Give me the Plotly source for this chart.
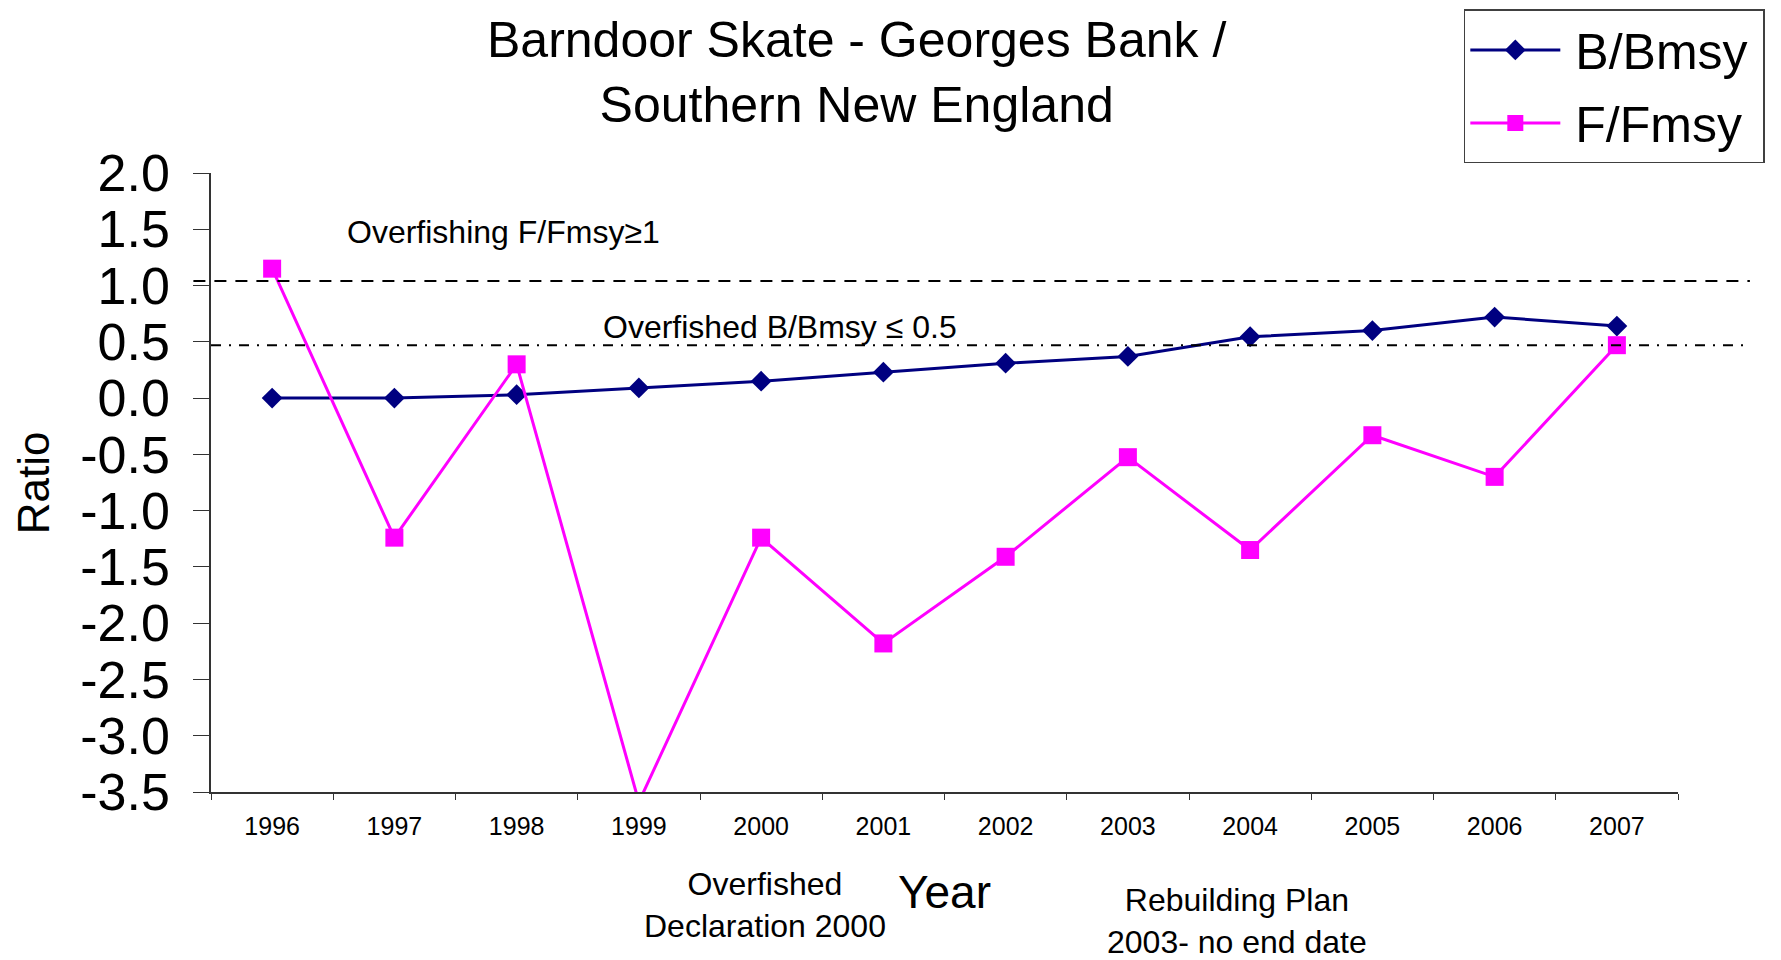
import plotly.graph_objects as go

years = ["1996", "1997", "1998", "1999", "2000", "2001", "2002", "2003", "2004", "2005", "2006", "2007"]
b_bmsy = [0.0, 0.0, 0.03, 0.09, 0.15, 0.23, 0.31, 0.37, 0.545, 0.60, 0.72, 0.64]
f_fmsy = [1.15, -1.24, 0.30, -3.59, -1.24, -2.18, -1.41, -0.525, -1.35, -0.33, -0.70, 0.47]
ytick_vals = [2.0, 1.5, 1.0, 0.5, 0.0, -0.5, -1.0, -1.5, -2.0, -2.5, -3.0, -3.5]
ytick_text = [f"{v:.1f}".replace("\u2212", "-") for v in ytick_vals]
overfishing_level = 1.04
overfished_level = 0.47

FONT = "Liberation Sans, Arial, sans-serif"

fig = go.Figure()
fig.add_trace(go.Scatter(
    x=years, y=b_bmsy, name="\u2009B/Bmsy\u2009", mode="lines+markers", legendgroup="b",
    line=dict(color="#000080", width=3),
    marker=dict(symbol="diamond", size=16, color="#000080"),
))
fig.add_trace(go.Scatter(
    x=years, y=f_fmsy, name="\u2009F/Fmsy\u2009", mode="lines+markers", legendgroup="f",
    line=dict(color="#FF00FF", width=3),
    marker=dict(symbol="square", size=18, color="#FF00FF"),
))

# reference lines
fig.add_shape(type="line", xref="paper", yref="y", x0=-0.012, x1=1.049,
              y0=overfishing_level, y1=overfishing_level,
              line=dict(color="black", width=2, dash="12px,9px"))
fig.add_shape(type="line", xref="paper", yref="y", x0=0.0, x1=1.046,
              y0=overfished_level, y1=overfished_level,
              line=dict(color="black", width=2, dash="10px,8px,2px,8px"))
# right frame edge
fig.add_shape(type="line", xref="paper", yref="paper", x0=1.0675, x1=1.0675,
              y0=-0.27, y1=1.266, line=dict(color="black", width=2))

annots = [
    dict(text="Barndoor Skate - Georges Bank /<br>Southern New England", x=0.4397, y=1.163,
         xanchor="center", yanchor="middle", font=dict(size=50, family=FONT, color="black")),
    dict(text="Overfishing F/Fmsy\u22651", x=0.0913, y=0.904, xanchor="left", yanchor="middle",
         font=dict(size=32, family=FONT, color="black")),
    dict(text="Overfished B/Bmsy \u2264 0.5", x=0.2658, y=0.751, xanchor="left", yanchor="middle",
         font=dict(size=32, family=FONT, color="black")),
    dict(text="Overfished<br>Declaration 2000", x=0.3777, y=-0.1827, xanchor="center", yanchor="middle",
         font=dict(size=32, family=FONT, color="black")),
    dict(text="Rebuilding Plan<br>2003- no end date", x=0.6994, y=-0.2085, xanchor="center", yanchor="middle",
         font=dict(size=32, family=FONT, color="black")),
    dict(text="Year", x=0.4997, y=-0.161, xanchor="center", yanchor="middle",
         font=dict(size=46, family=FONT, color="black")),
    dict(text="Ratio", x=-0.1213, y=0.499, xanchor="center", yanchor="middle", textangle=-90,
         font=dict(size=44, family=FONT, color="black")),
]
for a in annots:
    fig.add_annotation(xref="paper", yref="paper", showarrow=False, **a)

fig.update_layout(
    width=1773, height=952,
    margin=dict(l=203, r=103, t=165, b=168, pad=0, autoexpand=False),
    paper_bgcolor="white", plot_bgcolor="white",
    font=dict(family=FONT, color="black"),
    showlegend=True,
    legend=dict(
        x=0.854, y=1.2642, xanchor="left", yanchor="top",
        bordercolor="#404040", borderwidth=1.5, bgcolor="white",
        font=dict(size=50, family=FONT, color="black"),
        traceorder="grouped", tracegroupgap=5, itemwidth=90,
    ),
    xaxis=dict(
        type="category", range=[-0.5, 11.5], showgrid=False, zeroline=False,
        showline=True, linecolor="#333333", linewidth=1.5,
        ticks="outside", ticklen=6, tickcolor="#333333", tickson="boundaries",
        tickfont=dict(size=25, family=FONT, color="black"), ticklabelstandoff=11,
    ),
    yaxis=dict(
        range=[-3.5, 2.0], showgrid=False, zeroline=False,
        showline=True, linecolor="#333333", linewidth=1.5,
        ticks="outside", ticklen=16, tickcolor="#333333",
        tickmode="array", tickvals=ytick_vals, ticktext=ytick_text,
        tickfont=dict(size=52, family=FONT, color="black"), ticklabelstandoff=13,
    ),
)

fig.write_html("out.html")
